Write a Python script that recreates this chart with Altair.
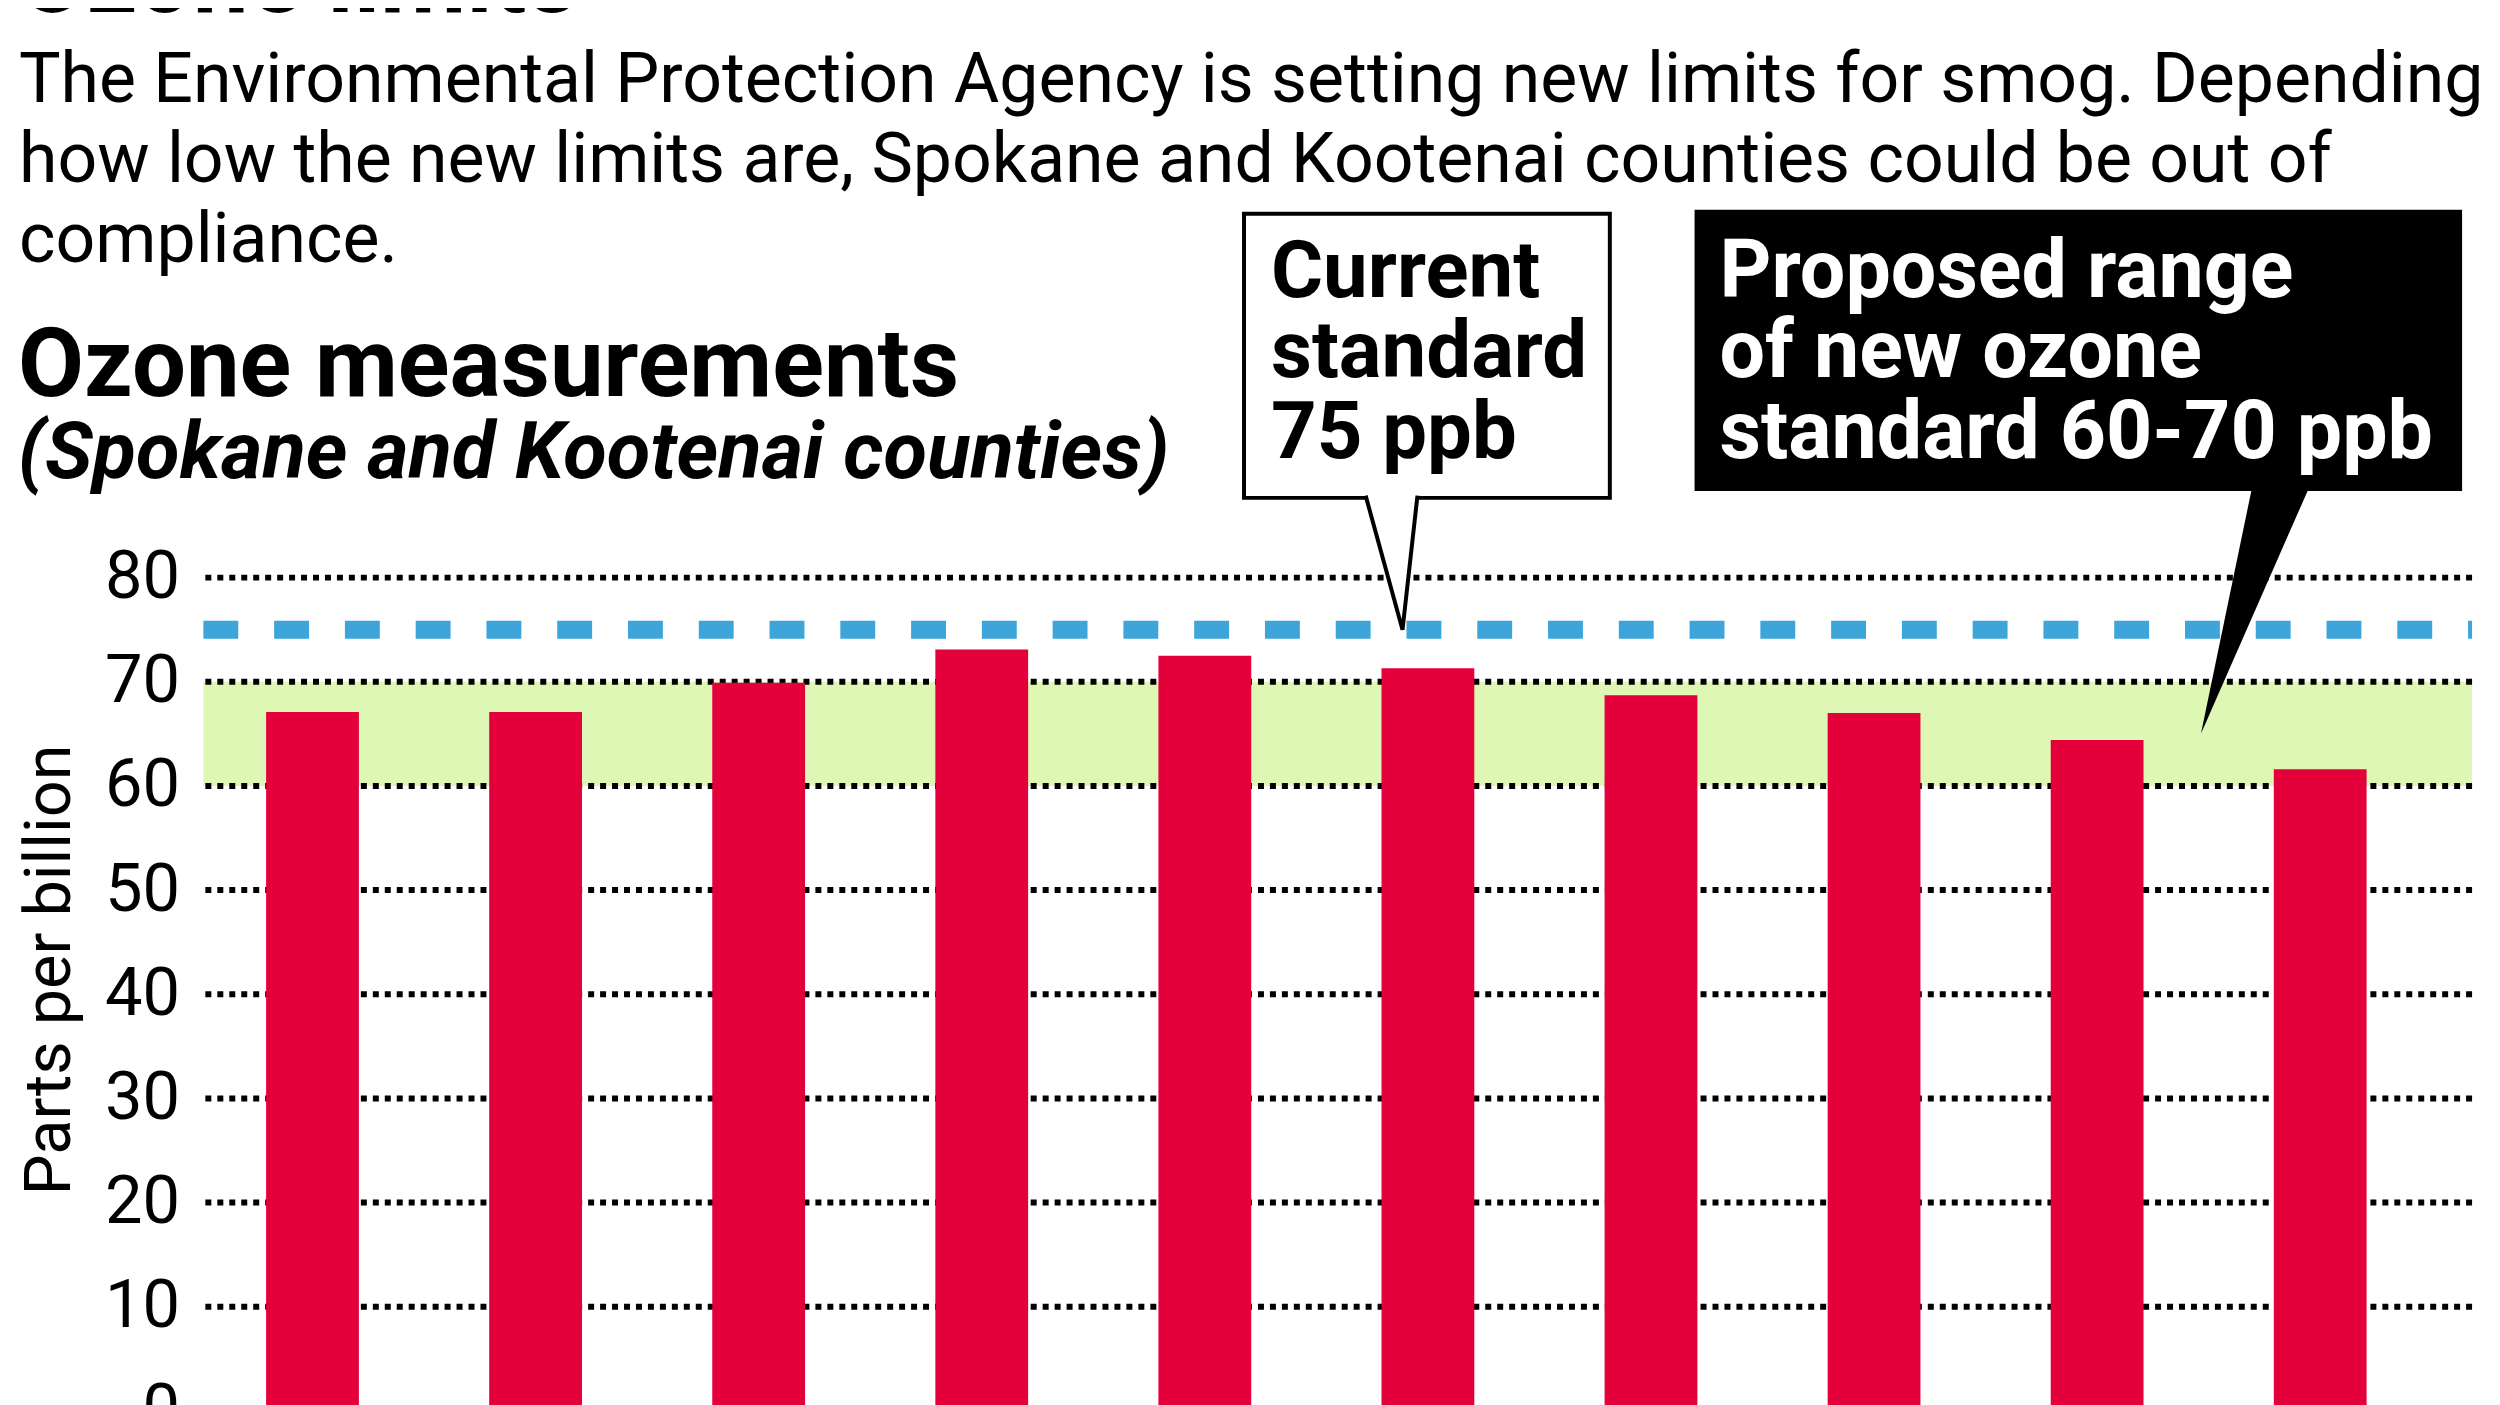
import altair as alt
import pandas as pd

# ---------------- data ----------------
years = ["2004", "2005", "2006", "2007", "2008", "2009", "2010", "2011", "2012", "2013"]
ozone_ppb = [67.1, 67.1, 69.9, 73.1, 72.5, 71.3, 68.7, 67.0, 64.4, 61.6]
y_ticks = [0, 10, 20, 30, 40, 50, 60, 70, 80]
current_standard = [75]
proposed_low = [60]
proposed_high = [70]
proposed_pointer = [65]

title_text = "Ozone limits"
description = [
    "The Environmental Protection Agency is setting new limits for smog. Depending",
    "how low the new limits are, Spokane and Kootenai counties could be out of",
    "compliance.",
]
heading = "Ozone measurements"
subheading = "(Spokane and Kootenai counties)"
current_label = ["Current", "standard", "75 ppb"]
proposed_label = ["Proposed range", "of new ozone", "standard 60-70 ppb"]
y_title = "Parts per billion"

# ---------------- style ----------------
FONT = "Roboto"
RED = "#E4003B"
GREEN = "#DFF7B5"
BLUE = "#3DA5D9"
W, H = 2276, 836

bars_df = pd.DataFrame({"year": years, "ppb": ozone_ppb})
grid_df = pd.DataFrame({"tick": y_ticks})
std_df = pd.DataFrame({"std": current_standard})
band_df = pd.DataFrame({"lo": proposed_low, "hi": proposed_high})
ptr_df = pd.DataFrame({"tip": proposed_pointer})
one = pd.DataFrame({"k": [0]})

yscale = alt.Scale(domain=[0, 80], nice=False)
xscale = alt.Scale(domain=years, paddingInner=0.584, paddingOuter=0.377, align=0.373)

Y_AXIS = alt.Axis(
    values=y_ticks,
    title=y_title,
    grid=False,
    ticks=False,
    domain=False,
    labelFont=FONT,
    labelFontSize=67,
    labelColor="black",
    labelPadding=24,
    titleFont=FONT,
    titleFontSize=65,
    titleFontWeight="normal",
    titleColor="black",
    titleAngle=270,
    titleX=-134,
    titleY=393,
    titleAlign="center",
    titleBaseline="alphabetic",
)


def yenc(field):
    return alt.Y(field, scale=yscale, axis=Y_AXIS)


band = alt.Chart(band_df).mark_rect(color=GREEN).encode(
    y=yenc("lo:Q"),
    y2="hi:Q",
)

grid = alt.Chart(grid_df).mark_rule(color="black", strokeWidth=6, strokeDash=[6, 6]).encode(
    y=yenc("tick:Q")
)

std_line = alt.Chart(std_df).mark_rule(
    color=BLUE, strokeWidth=18, strokeDash=[35, 36], strokeDashOffset=31
).encode(y=yenc("std:Q"))

bars = alt.Chart(bars_df).mark_bar(color=RED).encode(
    x=alt.X("year:N", scale=xscale, axis=None, sort=years),
    y=yenc("ppb:Q"),
)


def txt(lines, px, py, size, weight="normal", color="black", style="normal", lh=81):
    return alt.Chart(one).mark_text(
        text=lines, font=FONT, fontSize=size, fontWeight=weight, fontStyle=style,
        color=color, align="left", baseline="alphabetic", lineHeight=lh,
    ).encode(x=alt.value(px), y=alt.value(py))


title_mark = txt(title_text, -186, -567, 100, weight="bold")
desc_mark = txt(description, -185, -477, 70, lh=80)
head_mark = txt(heading, -186, -182, 96, weight="bold")
sub_mark = txt(subheading, -186, -100, 80, weight="bold", style="italic")

box1 = alt.Chart(one).mark_rect(fill="white", stroke="black", strokeWidth=4).encode(
    x=alt.value(1044), x2=alt.value(1411), y=alt.value(-365), y2=alt.value(-80)
)
ptr1 = alt.Chart(std_df).mark_point(
    shape="M-0.37,-1.345L0,0L0.15,-1.345", size=40000, fill="white", stroke="black",
    strokeWidth=4, opacity=1, fillOpacity=1, strokeOpacity=1,
).encode(x=alt.value(1203), y=yenc("std:Q"))
box1_text = txt(current_label, 1071, -282, 80, weight="bold")

box2 = alt.Chart(one).mark_rect(fill="black").encode(
    x=alt.value(1496), x2=alt.value(2266), y=alt.value(-369), y2=alt.value(-87)
)
ptr2 = alt.Chart(ptr_df).mark_point(
    shape="M0,0L0.51,-2.46L1.08,-2.46Z", size=40000, fill="black", strokeWidth=0,
    opacity=1, fillOpacity=1,
).encode(x=alt.value(2004), y=yenc("tip:Q"))
box2_text = txt(proposed_label, 1521, -282, 81, weight="bold", color="white")

chart = alt.layer(
    band, grid, std_line, bars,
    title_mark, desc_mark, head_mark, sub_mark,
    box1, ptr1, box1_text, box2, ptr2, box2_text,
).properties(
    width=W,
    height=H,
    padding={"left": 196, "top": 569, "right": 20, "bottom": 120},
    autosize=alt.AutoSizeParams(type="none"),
    background="white",
).configure_view(stroke=None)

chart.save("out.html", embed_options={"renderer": "svg", "actions": False})
